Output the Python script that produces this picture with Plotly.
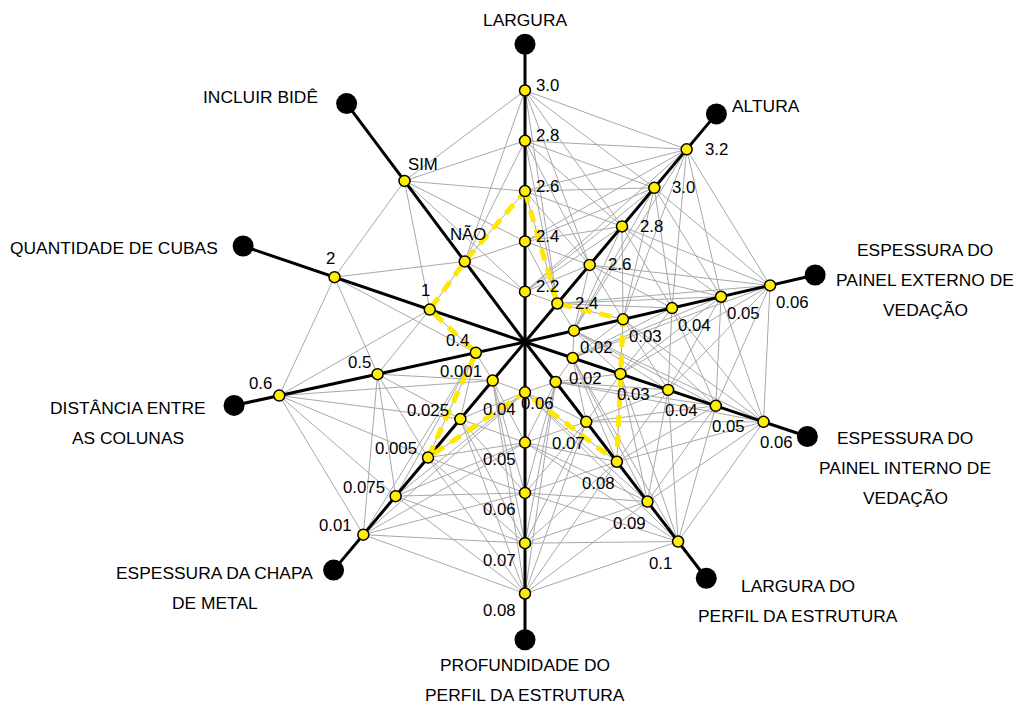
import numpy as np
import plotly.graph_objects as go

# ---------------- data ----------------
axis_titles = [
    ["LARGURA"],
    ["ALTURA"],
    ["ESPESSURA DO", "PAINEL EXTERNO DE", "VEDAÇÃO"],
    ["ESPESSURA DO", "PAINEL INTERNO DE", "VEDAÇÃO"],
    ["LARGURA DO", "PERFIL DA ESTRUTURA"],
    ["PROFUNDIDADE DO", "PERFIL DA ESTRUTURA"],
    ["ESPESSURA DA CHAPA", "DE METAL"],
    ["DISTÂNCIA ENTRE", "AS COLUNAS"],
    ["QUANTIDADE DE CUBAS"],
    ["INCLUIR BIDÊ"],
]
largura_ticks = ["2.2", "2.4", "2.6", "2.8", "3.0"]
altura_ticks = ["2.4", "2.6", "2.8", "3.0", "3.2"]
painel_externo_ticks = ["0.02", "0.03", "0.04", "0.05", "0.06"]
painel_interno_ticks = ["0.02", "0.03", "0.04", "0.05", "0.06"]
largura_perfil_ticks = ["0.06", "0.07", "0.08", "0.09", "0.1"]
profundidade_perfil_ticks = ["0.04", "0.05", "0.06", "0.07", "0.08"]
chapa_ticks = ["0.001", "0.025", "0.005", "0.075", "0.01"]
distancia_ticks = ["0.4", "0.5", "0.6"]
cubas_ticks = ["1", "2"]
bide_ticks = ["NÃO", "SIM"]

axis_ticks = [largura_ticks, altura_ticks, painel_externo_ticks, painel_interno_ticks,
              largura_perfil_ticks, profundidade_perfil_ticks, chapa_ticks,
              distancia_ticks, cubas_ticks, bide_ticks]

# selected configuration (yellow dashed path)
selected = ["2.6", "2.4", "0.03", "0.03", "0.08", "0.04", "0.005", "0.4", "1", "NÃO"]

# ---------------- layout / style config ----------------
angles = [90, 50, 13, -18.5, -52.5, -90, -130, -167.7, 161.2, 126.8]
END_R = 5.92
U = 50.3          # px per radial unit
CX, CY = 525, 342  # pixel centre
W, H = 1020, 708
FONT = "Liberation Sans, Arial, Helvetica, sans-serif"
TITLE_SIZE = 17.4
TICK_SIZE = 16.8
LINE_GAP = 30

# tick label offsets (dx, dy in px, screen y down) and anchor
tick_off = [
    (9, -5, "left"), (16, 0, "left"), (22, 17, "center"), (13, 21, "center"),
    (-18, 22, "center"), (-7, 17, "right"), (-9, -9, "right"), (-5, -12, "right"),
    (-4, -19, "center"), (11, -21, "center"),
]
tick_override = {(9, 1): (19, -16, "center"), (9, 0): (3, -27, "center")}
# title block centre offsets from end dot
title_off = [(0, -24), (50, -8), (110, 5), (98, 32), (92, 23), (0, 40),
             (-119, 18), (-106, 18), (-129, 2), (-86, -7)]


def radii(n):
    gap = min(2.0, 4.0 / (n - 1))
    return [3 + (i - (n - 1) / 2) * gap for i in range(n)]


def xy(ax, r):
    t = np.deg2rad(angles[ax])
    return r * np.cos(t), r * np.sin(t)


nodes = []
for a, ticks in enumerate(axis_ticks):
    nodes.append([xy(a, r) for r in radii(len(ticks))])

fig = go.Figure()

# grey connections between adjacent axes
gx, gy = [], []
for a in range(len(axis_ticks)):
    b = (a + 1) % len(axis_ticks)
    for p in nodes[a]:
        for q in nodes[b]:
            gx += [p[0], q[0], None]
            gy += [p[1], q[1], None]
fig.add_trace(go.Scatter(x=gx, y=gy, mode="lines",
                         line=dict(color="#a8a8a8", width=1), hoverinfo="skip"))

# black axes
bx, by = [], []
for a in range(len(axis_ticks)):
    ex, ey = xy(a, END_R)
    bx += [0, ex, None]
    by += [0, ey, None]
fig.add_trace(go.Scatter(x=bx, y=by, mode="lines",
                         line=dict(color="black", width=3), hoverinfo="skip"))

# yellow dashed selected path
px, py = [], []
for a, s in enumerate(selected):
    i = axis_ticks[a].index(s)
    px.append(nodes[a][i][0])
    py.append(nodes[a][i][1])
px.append(px[0])
py.append(py[0])
fig.add_trace(go.Scatter(x=px, y=py, mode="lines",
                         line=dict(color="#FFE800", width=5, dash="12px,8px"),
                         hoverinfo="skip"))

# nodes
nx = [p[0] for ax in nodes for p in ax]
ny = [p[1] for ax in nodes for p in ax]
fig.add_trace(go.Scatter(x=nx, y=ny, mode="markers",
                         marker=dict(color="#FFEE00", size=11,
                                     line=dict(color="black", width=1.5)),
                         hoverinfo="skip"))

# end dots
ex = [xy(a, END_R)[0] for a in range(len(axis_ticks))]
ey = [xy(a, END_R)[1] for a in range(len(axis_ticks))]
fig.add_trace(go.Scatter(x=ex, y=ey, mode="markers",
                         marker=dict(color="black", size=21), hoverinfo="skip"))

annotations = []
# tick labels
for a, ticks in enumerate(axis_ticks):
    for i, t in enumerate(ticks):
        dx, dy, anc = tick_override.get((a, i), tick_off[a])
        annotations.append(dict(x=nodes[a][i][0], y=nodes[a][i][1], text=t,
                                showarrow=False, xanchor=anc, yanchor="middle",
                                xshift=dx, yshift=-dy,
                                font=dict(family=FONT, size=TICK_SIZE, color="black")))
# axis titles
for a, lines in enumerate(axis_titles):
    x0, y0 = xy(a, END_R)
    dx, dy = title_off[a]
    m = len(lines)
    for k, line in enumerate(lines):
        ly = dy + (k - (m - 1) / 2) * LINE_GAP
        annotations.append(dict(x=x0, y=y0, text=line, showarrow=False,
                                xanchor="center", yanchor="middle",
                                xshift=dx, yshift=-ly,
                                font=dict(family=FONT, size=TITLE_SIZE, color="black")))

fig.update_layout(
    width=W, height=H, autosize=False,
    margin=dict(l=0, r=0, t=0, b=0, pad=0),
    paper_bgcolor="white", plot_bgcolor="white",
    showlegend=False,
    xaxis=dict(range=[-CX / U, (W - CX) / U], visible=False, fixedrange=True),
    yaxis=dict(range=[-(H - CY) / U, CY / U], visible=False, fixedrange=True),
    annotations=annotations,
)

fig.write_html("out.html")
